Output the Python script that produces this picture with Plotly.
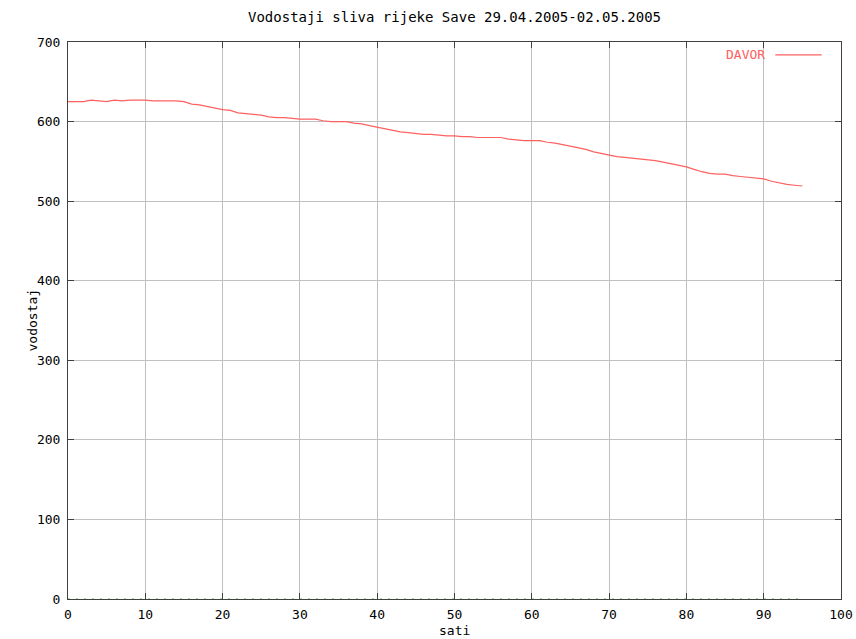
import plotly.graph_objects as go

hours = list(range(96))
davor = [625, 625, 625, 627, 626, 625, 627, 626, 627, 627,
         627, 626, 626, 626, 626, 625, 622, 621, 619, 617,
         615, 614, 611, 610, 609, 608, 606, 605, 605, 604,
         603, 603, 603, 601, 600, 600, 600, 598, 597, 595,
         593, 591, 589, 587, 586, 585, 584, 584, 583, 582,
         582, 581, 581, 580, 580, 580, 580, 578, 577, 576,
         576, 576, 574, 573, 571, 569, 567, 565, 562, 560,
         558, 556, 555, 554, 553, 552, 551, 549, 547, 545,
         543, 540, 537, 535, 534, 534, 532, 531, 530, 529,
         528, 525, 523, 521, 520, 519]
zero_series = [0] * 96
x_ticks = [0, 10, 20, 30, 40, 50, 60, 70, 80, 90, 100]
y_ticks = [0, 100, 200, 300, 400, 500, 600, 700]

FONT = "DejaVu Sans Mono"
FS = 13

fig = go.Figure()
fig.add_trace(go.Scatter(x=hours, y=zero_series, mode="lines",
                         line=dict(color="#33cc33", width=1, dash="2px,6px"),
                         showlegend=False, hoverinfo="skip", cliponaxis=False))
fig.add_trace(go.Scatter(x=hours, y=davor, mode="lines", name="DAVOR",
                         line=dict(color="#ff6060", width=1.2),
                         showlegend=False))

axis_common = dict(showgrid=True, gridcolor="#c0c0c0", gridwidth=1,
                   zeroline=False, showline=True, linecolor="#404040",
                   linewidth=1, mirror="ticks", ticks="inside", ticklen=6,
                   tickcolor="#404040", automargin=False,
                   layer="below traces",
                   tickfont=dict(family=FONT, size=FS, color="#000000"))

fig.update_layout(
    width=856, height=639,
    margin=dict(l=68, r=15, t=42, b=40),
    paper_bgcolor="white", plot_bgcolor="white",
    title=dict(text="Vodostaji sliva rijeke Save 29.04.2005-02.05.2005",
               x=0.5, xanchor="center", xref="paper",
               y=1 - 17 / 639, yanchor="middle",
               font=dict(family=FONT, size=14, color="#000000")),
    xaxis=dict(range=[0, 100], tickvals=x_ticks, ticklabelstandoff=3,
               **axis_common),
    yaxis=dict(range=[0, 700], tickvals=y_ticks, ticklabelstandoff=4,
               **axis_common),
)

fig.add_annotation(x=0.5, y=0, xref="paper", yref="paper", yshift=-31,
                   text="sati", showarrow=False, xanchor="center",
                   yanchor="middle",
                   font=dict(family=FONT, size=FS, color="#000000"))
fig.add_annotation(x=0, y=0.5, xref="paper", yref="paper", xshift=-36,
                   text="vodostaj", showarrow=False, textangle=-90,
                   xanchor="center", yanchor="middle",
                   font=dict(family=FONT, size=FS, color="#000000"))

fig.add_annotation(x=0.904, y=0.977, xref="paper", yref="paper",
                   text="DAVOR", showarrow=False, xanchor="right",
                   yanchor="middle",
                   font=dict(family=FONT, size=FS, color="#ff6060"))
fig.add_shape(type="line", xref="paper", yref="paper",
              x0=0.915, x1=0.975, y0=0.977, y1=0.977,
              line=dict(color="#ff6060", width=1.2))

fig.write_html("out.html",
               config={"displayModeBar": False},
               post_script="document.body.style.margin='0';"
                           "document.body.style.overflow='hidden';")
